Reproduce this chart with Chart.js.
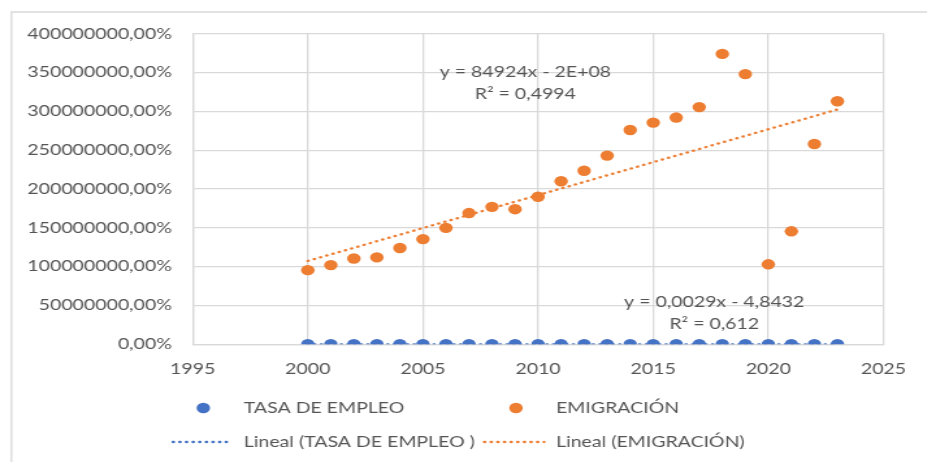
<!DOCTYPE html>
<html>
<head>
<meta charset="utf-8">
<script src="https://cdn.jsdelivr.net/npm/chart.js@4/dist/chart.umd.min.js"></script>
<style>
html,body{margin:0;padding:0;background:#fff;overflow:hidden;}
#wrap{width:713px;height:462px;transform:scaleX(1.3);transform-origin:0 0;}
</style>
</head>
<body>
<div id="wrap"><canvas id="chart" width="713" height="462"></canvas></div>
<script>
const years=[2000,2001,2002,2003,2004,2005,2006,2007,2008,2009,2010,2011,2012,2013,2014,2015,2016,2017,2018,2019,2020,2021,2022,2023];
const emigracion=[955000,1020000,1105000,1120000,1240000,1355000,1500000,1690000,1770000,1740000,1900000,2100000,2235000,2430000,2760000,2855000,2920000,3055000,3740000,3480000,1030000,1455000,2580000,3130000];
const tasaEmpleo=[0.95,0.96,0.97,0.96,0.97,0.98,0.98,0.99,0.99,0.98,0.97,0.98,0.99,0.99,1.00,1.00,1.01,1.01,1.01,1.02,0.98,1.00,1.02,1.02];
const seriesNames=['TASA DE EMPLEO','EMIGRACIÓN','Lineal (TASA DE EMPLEO )','Lineal (EMIGRACIÓN)'];
const eqTexts=[['y = 84924x - 2E+08','R² = 0,4994'],['y = 0,0029x - 4,8432','R² = 0,612']];
const eqX=[2009.45,2017.65];
const eqY=[[3507000,3223000],[545000,261000]];

const BLUE='#4472C4', ORANGE='#ED7D31', GRID='#D9D9D9', TXT='#555555';
const FONT='Lato';

function trend(xs,ys){
    const n=xs.length;
    const mx=xs.reduce((a,b)=>a+b,0)/n, my=ys.reduce((a,b)=>a+b,0)/n;
    let sxy=0,sxx=0;
    xs.forEach((x,i)=>{sxy+=(x-mx)*(ys[i]-my);sxx+=(x-mx)*(x-mx);});
    const b=sxy/sxx, a=my-b*mx;
    return [{x:xs[0],y:a+b*xs[0]},{x:xs[n-1],y:a+b*xs[n-1]}];
}
const pts=(vals)=>years.map((y,i)=>({x:y,y:vals[i]}));

const framePlugin={
    id:'frame',
    beforeDraw(chart){
        const c=chart.ctx;
        c.save();
        c.strokeStyle=GRID;c.lineWidth=1.3;
        c.beginPath();
        c.moveTo(chart.width,12);c.lineTo(8.8,12);c.lineTo(8.8,chart.height);
        c.stroke();
        c.restore();
    }
};

const textPlugin={
    id:'eqs',
    afterDatasetsDraw(chart){
        const c=chart.ctx, sx=chart.scales.x, sy=chart.scales.y;
        c.save();
        c.font='15px '+FONT;c.fillStyle=TXT;c.textAlign='center';c.textBaseline='middle';
        eqTexts.forEach((lines,k)=>{
            lines.forEach((t,j)=>c.fillText(t,sx.getPixelForValue(eqX[k]),sy.getPixelForValue(eqY[k][j])));
        });
        c.restore();
    }
};

const legendPlugin={
    id:'customLegend',
    afterDraw(chart){
        const c=chart.ctx, ds=chart.data.datasets;
        const items=[
            {ds:ds[0],type:'dot',mx:156.4,tx:187.5,y:408},
            {ds:ds[1],type:'dot',mx:396.9,tx:427.7,y:408},
            {ds:ds[2],type:'line',mx:[133,178],tx:187.5,y:442},
            {ds:ds[3],type:'line',mx:[372.5,418.5],tx:427.7,y:442}
        ];
        c.save();
        items.forEach(it=>{
            if(it.type==='dot'){
                c.fillStyle=it.ds.backgroundColor;
                c.beginPath();c.arc(it.mx,it.y,5.2,0,Math.PI*2);c.fill();
            }else{
                c.strokeStyle=it.ds.borderColor;c.lineWidth=it.ds.borderWidth;c.lineCap='round';c.setLineDash(it.ds.borderDash);
                c.beginPath();c.moveTo(it.mx[0],it.y);c.lineTo(it.mx[1],it.y);c.stroke();
                c.setLineDash([]);
            }
            c.font='15px '+FONT;c.fillStyle=TXT;c.textAlign='left';c.textBaseline='middle';
            c.fillText(it.ds.label,it.tx,it.y);
        });
        c.restore();
    }
};

new Chart(document.getElementById('chart'),{
    type:'scatter',
    data:{datasets:[
        {label:seriesNames[0],data:pts(tasaEmpleo),backgroundColor:BLUE,borderColor:BLUE,pointRadius:5.2,pointBorderWidth:0,order:1},
        {label:seriesNames[1],data:pts(emigracion),backgroundColor:ORANGE,borderColor:ORANGE,pointRadius:5.2,pointBorderWidth:0,order:1},
        {label:seriesNames[2],type:'line',data:trend(years,tasaEmpleo),borderColor:BLUE,borderWidth:2.3,borderDash:[0.6,4.5],borderCapStyle:'round',pointRadius:0,fill:false,order:2},
        {label:seriesNames[3],type:'line',data:trend(years,emigracion),borderColor:ORANGE,borderWidth:2.3,borderDash:[0.6,4.5],borderCapStyle:'round',pointRadius:0,fill:false,order:2}
    ]},
    options:{
        responsive:false,animation:false,
        layout:{padding:{left:0,right:27.8,top:33.7,bottom:0}},
        plugins:{legend:{display:false},tooltip:{enabled:false}},
        scales:{
            x:{type:'linear',min:1995,max:2025,
                ticks:{stepSize:5,padding:16,color:TXT,font:{family:FONT,size:15},callback:v=>String(v)},
                grid:{color:GRID,lineWidth:1.3,drawTicks:false},border:{color:GRID,width:1.3},
                afterFit(s){s.height=117.7;}},
            y:{min:0,max:4000000,
                ticks:{stepSize:500000,padding:16,color:TXT,font:{family:FONT,size:15},callback:v=>Math.round(v*100)+',00%'},
                grid:{color:GRID,lineWidth:1.3,drawTicks:false},border:{color:GRID,width:1.3},
                afterFit(s){s.width=148.2;}}
        }
    },
    plugins:[framePlugin,textPlugin,legendPlugin]
});
</script>
</body>
</html>
